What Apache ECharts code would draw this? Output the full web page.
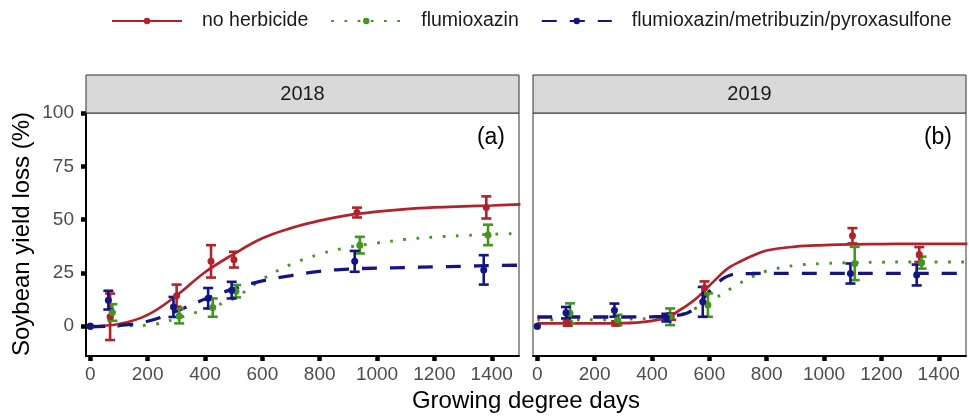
<!DOCTYPE html>
<html><head><meta charset="utf-8">
<script src="https://cdn.jsdelivr.net/npm/echarts@6/dist/echarts.min.js"></script>
<style>html,body{margin:0;padding:0;background:#fff}#c{width:969px;height:416px}</style>
</head><body><div id="c"></div><script>
// ---------- axis ticks / labels ----------
const xTicks = [0, 200, 400, 600, 800, 1000, 1200, 1400];
const yTicks = [0, 25, 50, 75, 100];
const panelNames = ['2018', '2019'];
const panelTags = ['(a)', '(b)'];
const treatments = ['no herbicide', 'flumioxazin', 'flumioxazin/metribuzin/pyroxasulfone'];
const xTitle = 'Growing degree days';
const yTitle = 'Soybean yield loss (%)';

// ---------- observed means and error half-widths, 2018 ----------
const obs2018X_none = [0, 69, 301, 421, 501, 930, 1381];
const obs2018Y_none = [0, 4.4, 14.3, 30.4, 31.2, 53.3, 55.7];
const obs2018E_none = [0, 10.9, 5.2, 7.6, 3.7, 2.3, 5.2];
const obs2018X_flum = [0, 77, 310, 427, 508, 940, 1387];
const obs2018Y_flum = [0, 6.4, 4.8, 8.7, 16.4, 38, 42.8];
const obs2018E_flum = [0, 3.9, 3.5, 4.3, 2.9, 3.9, 4.8];
const obs2018X_fmp = [0, 63, 290, 411, 493, 922, 1372];
const obs2018Y_fmp = [0, 12.2, 9, 13.1, 16.9, 30.4, 26.4];
const obs2018E_fmp = [0, 4.4, 4.7, 4.8, 3.9, 4.9, 6.9];

// ---------- observed means and error half-widths, 2019 ----------
const obs2019X_none = [0, 106, 275, 467, 583, 1099, 1332];
const obs2019Y_none = [0, 1.2, 1.3, 4.5, 17.9, 42.4, 33.6];
const obs2019E_none = [0, 1, 1, 1.5, 3.1, 3.6, 3.5];
const obs2019X_flum = [0, 114, 280, 463, 595, 1107, 1340];
const obs2019Y_flum = [0, 6, 2.9, 4.4, 9.9, 29.4, 29.8];
const obs2019E_flum = [0, 4.7, 2.4, 3.9, 5.5, 7.8, 2.8];
const obs2019X_fmp = [0, 100, 269, 450, 577, 1092, 1323];
const obs2019Y_fmp = [0, 6.3, 7.5, 4, 11.4, 24.7, 24];
const obs2019E_fmp = [0, 2.7, 3.1, 1.8, 7, 4.7, 4.9];

// ---------- fitted curves ----------
const fit2018X = [0, 100, 200, 300, 400, 500, 600, 700, 800, 900, 1000, 1100, 1200, 1300, 1400, 1500];
const fit2018_none = [0, 1, 5.3, 14.3, 25.3, 33.8, 41.2, 46, 49.5, 52.1, 53.7, 54.9, 55.7, 56.2, 56.6, 57.1];
const fit2018_flum = [0, 0.1, 0.5, 3.5, 8, 13, 22, 29, 33.8, 37, 39, 40.7, 41.8, 42.5, 43.1, 43.5];
const fit2018_fmp = [-0.3, 0.3, 2.3, 7, 12.7, 17.5, 21.2, 23.7, 25.7, 26.8, 27.2, 27.5, 27.8, 28.1, 28.4, 28.6];

const fit2019X = [0, 100, 200, 300, 400, 450, 500, 525, 550, 575, 600, 625, 650, 675, 700, 750, 800, 900, 1000, 1100, 1200, 1300, 1400, 1500];
const fit2019_none = [1.3, 1.3, 1.3, 1.4, 2.5, 4, 7.8, 10, 12.5, 15.5, 19, 22.3, 25.5, 28, 29.8, 33, 35.5, 37.3, 38, 38.4, 38.5, 38.6, 38.6, 38.6];
const fit2019_flum = [3, 3, 3, 3.2, 3.7, 4.3, 5.5, 6.7, 8.3, 9.8, 11.5, 13.5, 15.5, 17.7, 19.8, 23.2, 25.9, 28.5, 29.4, 29.8, 30, 30.1, 30.1, 30.1];
const fit2019_fmp = [4.3, 4.3, 4.3, 4.3, 4.4, 4.6, 5.3, 6.3, 8.5, 12.2, 16.3, 19.8, 22.5, 24, 24.5, 24.7, 24.8, 24.8, 24.8, 24.8, 24.8, 24.8, 24.8, 24.8];

// ---------- styles ----------
const colors = ['#B2222B', '#42951F', '#141485'];
const lineTypes = ['solid', [2.7, 10.5], [15, 13]];
const lineWidths = [2.7, 2.9, 3.3];
const FONT = 'Liberation Sans, Arial, Helvetica, sans-serif';

const obs = [
  [[obs2018X_none, obs2018Y_none, obs2018E_none], [obs2018X_flum, obs2018Y_flum, obs2018E_flum], [obs2018X_fmp, obs2018Y_fmp, obs2018E_fmp]],
  [[obs2019X_none, obs2019Y_none, obs2019E_none], [obs2019X_flum, obs2019Y_flum, obs2019E_flum], [obs2019X_fmp, obs2019Y_fmp, obs2019E_fmp]]
];
const fits = [
  [fit2018X, [fit2018_none, fit2018_flum, fit2018_fmp]],
  [fit2019X, [fit2019_none, fit2019_flum, fit2019_fmp]]
];

const gridLeft = [86, 533], gridTop = 113, gridW = 433, gridH = 243;
const xMin = -15, xMax = 1495, yMin = -14, yMax = 100;

const grids = [], xAxes = [], yAxes = [], series = [];
for (let p = 0; p < 2; p++) {
  grids.push({left: gridLeft[p], top: gridTop, width: gridW, height: gridH, show: true,
    borderColor: '#333', borderWidth: 1, backgroundColor: '#fff'});
  xAxes.push({type: 'value', gridIndex: p, min: xMin, max: xMax,
    axisLine: {show: true, onZero: false, lineStyle: {color: '#000', width: 2}},
    axisTick: {show: true, length: 5, customValues: xTicks, lineStyle: {color: '#000', width: 4.5}},
    axisLabel: {show: true, customValues: xTicks, margin: 9, color: '#4d4d4d', fontSize: 19, fontFamily: FONT,
      formatter: v => String(v)},
    splitLine: {show: false}});
  yAxes.push({type: 'value', gridIndex: p, min: yMin, max: yMax,
    axisLine: {show: p === 0, onZero: false, lineStyle: {color: '#000', width: 2}},
    axisTick: {show: p === 0, length: 5, customValues: yTicks, lineStyle: {color: '#000', width: 4.5}},
    axisLabel: {show: p === 0, customValues: yTicks, margin: 12, color: '#4d4d4d', fontSize: 19, fontFamily: FONT,
      formatter: v => String(v)},
    splitLine: {show: false}});
}

// fitted curves first (legend takes their icon)
for (let p = 0; p < 2; p++) {
  const fx = fits[p][0];
  for (let t = 0; t < 3; t++) {
    const fy = fits[p][1][t];
    series.push({type: 'line', name: treatments[t], xAxisIndex: p, yAxisIndex: p,
      data: fx.map((x, i) => [x, fy[i]]), smooth: 0.4,
      symbol: 'circle', symbolSize: 7, showSymbol: false, silent: true, z: 3,
      itemStyle: {color: colors[t]},
      lineStyle: {color: colors[t], width: lineWidths[t], type: lineTypes[t], cap: 'butt'}});
  }
}
// error bars and points
for (let p = 0; p < 2; p++) {
  for (let t = 0; t < 3; t++) {
    const [ox, oy, oe] = obs[p][t];
    const col = colors[t];
    series.push({type: 'custom', name: 'err' + p + t, xAxisIndex: p, yAxisIndex: p, silent: true, z: 4,
      data: ox.map((x, i) => [x, oy[i] - oe[i], oy[i] + oe[i]]),
      encode: {x: 0, y: [1, 2]},
      renderItem: function (params, api) {
        const x = api.value(0), lo = api.value(1), hi = api.value(2);
        if (hi - lo <= 0) return null;
        const a = api.coord([x, lo]), b = api.coord([x, hi]);
        const w = 5;
        const st = {stroke: col, lineWidth: 2.6, fill: null};
        return {type: 'group', children: [
          {type: 'line', shape: {x1: a[0], y1: a[1], x2: b[0], y2: b[1]}, style: st},
          {type: 'line', shape: {x1: a[0] - w, y1: a[1], x2: a[0] + w, y2: a[1]}, style: st},
          {type: 'line', shape: {x1: b[0] - w, y1: b[1], x2: b[0] + w, y2: b[1]}, style: st}
        ]};
      }});
    series.push({type: 'scatter', name: 'pt' + p + t, xAxisIndex: p, yAxisIndex: p, silent: true, z: 5,
      symbol: 'circle', symbolSize: 7, itemStyle: {color: col, opacity: 1},
      data: ox.map((x, i) => [x, oy[i]])});
  }
}

const graphics = [];
for (let p = 0; p < 2; p++) {
  graphics.push({type: 'rect', shape: {x: gridLeft[p], y: 75, width: gridW, height: 38},
    style: {fill: '#D9D9D9', stroke: '#333', lineWidth: 1}, z: 10});
  graphics.push({type: 'text', x: gridLeft[p] + gridW / 2, y: 94, z: 11,
    style: {text: panelNames[p], fill: '#1a1a1a', fontSize: 20, fontFamily: FONT, align: 'center', verticalAlign: 'middle'}});
  graphics.push({type: 'text', x: gridLeft[p] + gridW - 14, y: 138, z: 11,
    style: {text: panelTags[p], fill: '#000', fontSize: 23, fontFamily: FONT, align: 'right', verticalAlign: 'middle'}});
}
graphics.push({type: 'text', x: 526, y: 401, z: 11,
  style: {text: xTitle, fill: '#000', fontSize: 24, fontFamily: FONT, align: 'center', verticalAlign: 'middle'}});
graphics.push({type: 'text', x: 22, y: 234, rotation: Math.PI / 2, z: 11,
  style: {text: yTitle, fill: '#000', fontSize: 24, fontFamily: FONT, align: 'center', verticalAlign: 'middle'}});

const chart = echarts.init(document.getElementById('c'), null, {renderer: 'canvas'});
chart.setOption({
  animation: false,
  backgroundColor: '#fff',
  legend: {data: treatments, left: 106, top: 6, itemWidth: 70, itemHeight: 8, itemGap: 22,
    textStyle: {fontSize: 19.5, fontFamily: FONT, color: '#1a1a1a', padding: [0, 0, 0, 15]},
    selectedMode: false},
  grid: grids, xAxis: xAxes, yAxis: yAxes, series: series, graphic: graphics
});
</script></body></html>
